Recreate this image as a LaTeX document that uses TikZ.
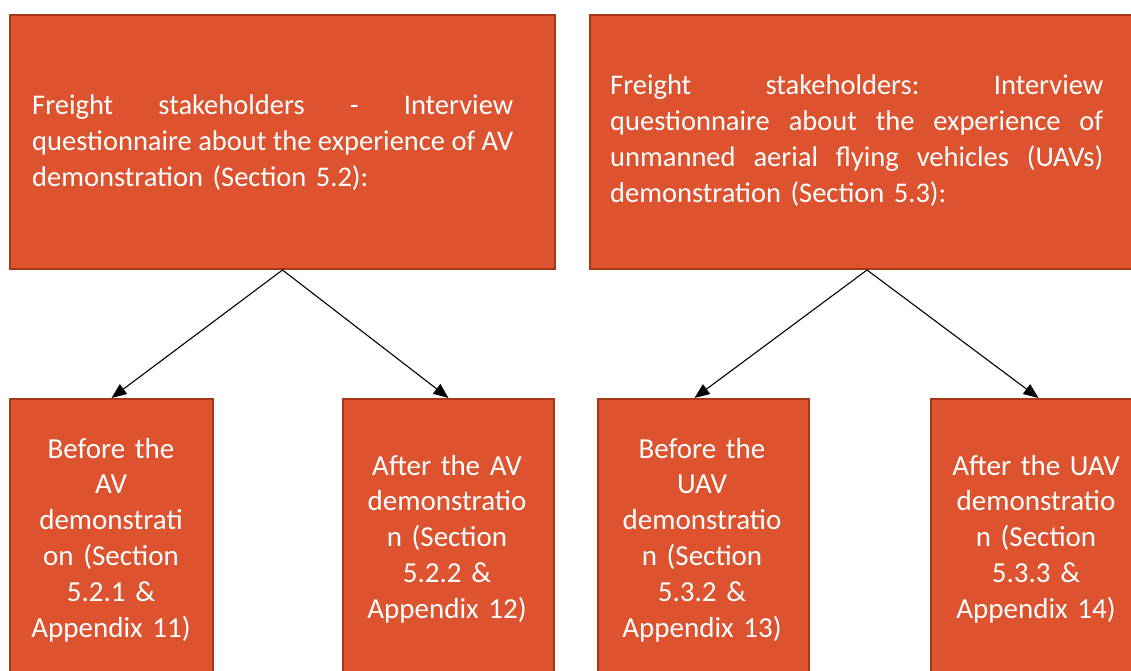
\documentclass[tikz,border=0pt]{standalone}
\usepackage{fontspec}
\setmainfont{Carlito}
\usetikzlibrary{arrows.meta}
\definecolor{boxfill}{RGB}{221,83,48}
\definecolor{boxedge}{RGB}{166,56,22}
% a justified line: words spread evenly over the given width
\newcommand{\jline}[2]{\leavevmode\hbox to #1{#2}}
\newcommand{\jsp}{\hskip 0.22em plus 1fill minus 0.12em\relax}
\begin{document}
\begin{tikzpicture}[x=1pt,y=-1pt,
  box/.style={draw=boxedge, fill=boxfill, line width=2pt, rectangle,
    anchor=north west, inner sep=0pt},
  toptext/.style={anchor=base west, inner sep=0pt, text=white, align=left,
    font=\fontsize{28.5}{35.8}\selectfont},
  subtext/.style={anchor=base, inner sep=0pt, text=white, align=center,
    text width=200pt, font=\fontsize{29}{35.8}\selectfont},
  link/.style={line width=1.1pt, -{Triangle[length=15pt,width=12pt]}}]
  \useasboundingbox (0,0) rectangle (1131,671);

  % upper boxes
  \node[box, minimum width=545pt, minimum height=254pt] (tl) at (9,14) {};
  \node[box, minimum width=554pt, minimum height=254pt] (tr) at (589,14) {};

  % lower boxes
  \node[box, minimum width=203pt, minimum height=300pt] (b1) at (9,398) {};
  \node[box, minimum width=211pt, minimum height=300pt] (b2) at (342,398) {};
  \node[box, minimum width=211pt, minimum height=300pt] (b3) at (597,398) {};
  \node[box, minimum width=211pt, minimum height=300pt] (b4) at (930,398) {};

  % texts of the upper boxes
  \node[toptext, text width=481pt] (tlt) at (32,115) {%
    \jline{481pt}{Freight\jsp stakeholders\jsp -\jsp Interview}\\
    \jline{481pt}{questionnaire\jsp about\jsp the\jsp experience\jsp of\jsp AV}\\
    demonstration (Section 5.2):};
  \node[toptext, text width=493pt] (trt) at (610,95) {%
    \jline{493pt}{Freight\jsp stakeholders:\jsp Interview}\\
    \jline{493pt}{questionnaire\jsp about\jsp the\jsp experience\jsp of}\\
    \jline{493pt}{unmanned\jsp aerial\jsp flying\jsp vehicles\jsp (UAVs)}\\
    demonstration (Section 5.3):};

  % texts of the lower boxes
  \node[subtext] (b1t) at (111,458) {Before the\\AV\\demonstrati\\on (Section\\5.2.1 \&\\Appendix 11)};
  \node[subtext] (b2t) at (447,475) {After the AV\\demonstratio\\n (Section\\5.2.2 \&\\Appendix 12)};
  \node[subtext] (b3t) at (702,458) {Before the\\UAV\\demonstratio\\n (Section\\5.3.2 \&\\Appendix 13)};
  \node[subtext] (b4t) at (1036,475) {After the UAV\\demonstratio\\n (Section\\5.3.3 \&\\Appendix 14)};

  % connectors
  \coordinate (b3in) at ([xshift=-9pt]b3.north);
  \coordinate (b4in) at ([xshift=2pt]b4.north);
  \draw[link] (tl.south) -- (b1.north);
  \draw[link] (tl.south) -- (b2.north);
  \draw[link] (tr.south) -- (b3in);
  \draw[link] (tr.south) -- (b4in);
\end{tikzpicture}
\end{document}
